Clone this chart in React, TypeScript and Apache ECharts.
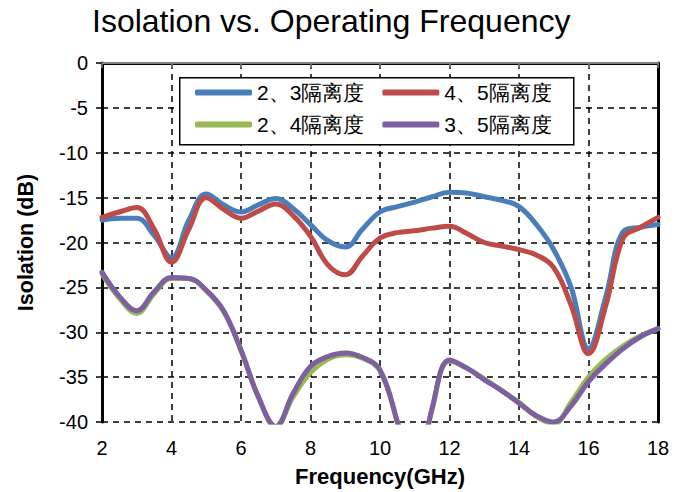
import React, { useEffect, useRef } from "react";
import * as echarts from "echarts";

const freq = [2, 2.5, 3, 3.5, 4, 4.5, 5, 5.5, 6, 6.5, 7, 7.5, 8, 8.5, 9, 9.5, 10, 10.5, 11, 11.5, 12, 12.5, 13, 13.5, 14, 14.5, 15, 15.5, 16, 16.5, 17, 17.5, 18];

const iso23 = [-17.5, -17.3, -17.3, -19.2, -21.7, -17.5, -14.6, -15.8, -16.6, -15.8, -15.1, -16.2, -18.0, -19.8, -20.5, -18.5, -16.6, -16.0, -15.5, -14.9, -14.4, -14.5, -14.9, -15.3, -16.0, -18.0, -20.8, -25.0, -31.8, -26.0, -18.8, -18.3, -18.0];
const iso45 = [-17.2, -16.6, -16.1, -18.5, -22.2, -18.5, -15.0, -16.3, -17.3, -16.5, -15.7, -17.0, -19.3, -22.5, -23.6, -21.5, -19.5, -18.9, -18.7, -18.4, -18.2, -19.0, -20.0, -20.4, -20.8, -21.4, -22.8, -27.0, -32.4, -27.0, -19.5, -18.3, -17.2];
const iso24 = [-23.5, -26.2, -27.9, -25.7, -24.0, -24.0, -25.4, -27.7, -32.0, -37.2, -40.5, -37.2, -34.5, -33.0, -32.5, -32.9, -34.3, -40.0, -47.0, -38.5, -33.2, -34.0, -35.2, -36.5, -37.8, -39.4, -40.2, -37.8, -35.0, -33.0, -31.5, -30.4, -29.6];
const iso35 = [-23.3, -26.0, -27.6, -25.5, -23.9, -24.0, -25.3, -27.6, -32.0, -37.2, -40.5, -36.8, -33.8, -32.7, -32.3, -32.8, -34.2, -40.0, -47.0, -38.5, -33.1, -34.0, -35.3, -36.5, -37.9, -39.3, -40.0, -38.2, -35.5, -33.5, -31.8, -30.5, -29.6];

const seriesNames = ["2、3隔离度", "4、5隔离度", "2、4隔离度", "3、5隔离度"];
const seriesColors = ["#4a7ebb", "#be4b48", "#98b954", "#7d60a0"];
const seriesValues = [iso23, iso45, iso24, iso35];

export default function App() {
  const ref = useRef<HTMLDivElement>(null);
  useEffect(() => {
    if (!ref.current) return;
    document.body.style.margin = "0";
    const chart = echarts.init(ref.current, null, { renderer: "svg" });
    const font = "Arial, 'Liberation Sans', sans-serif";
    const legendCommon = {
      itemWidth: 57,
      itemHeight: 6,
      itemGap: 18,
      icon: "roundRect",
      textStyle: { fontSize: 21, color: "#000", fontFamily: font },
      padding: 0,
      left: 195,
      selectedMode: false,
    };
    chart.setOption({
      animation: false,
      backgroundColor: "#fff",
      title: {
        text: "Isolation vs. Operating Frequency",
        left: 87,
        top: 0,
        textStyle: { fontSize: 32, fontWeight: "normal", color: "#000", fontFamily: font },
      },
      grid: { left: 102, right: 18, top: 63, bottom: 68, containLabel: false },
      legend: [
        { ...legendCommon, top: 82, data: [seriesNames[0], seriesNames[1]] },
        { ...legendCommon, top: 114, data: [seriesNames[2], seriesNames[3]] },
      ],
      graphic: [
        {
          type: "rect",
          left: 179,
          top: 77,
          shape: { width: 394, height: 67 },
          style: { fill: "#fff", stroke: "#000", lineWidth: 1.5 },
          z: 4,
        },
      ],
      xAxis: [
        {
          type: "value",
          min: 2,
          max: 18,
          interval: 2,
          name: "Frequency(GHz)",
          nameLocation: "middle",
          nameGap: 43,
          nameTextStyle: { fontSize: 22, fontWeight: "bold", color: "#000", fontFamily: font },
          axisLine: { show: true, lineStyle: { color: "#000", width: 3 } },
          axisTick: { show: false },
          axisLabel: { fontSize: 20, color: "#000", fontFamily: font, margin: 16 },
          splitLine: { show: true, lineStyle: { color: "#000", type: [6, 5], width: 1.5 } },
        },
        {
          type: "value",
          position: "top",
          min: 2,
          max: 18,
          interval: 2,
          axisLine: { show: true, lineStyle: { color: "#808080", width: 2 } },
          axisTick: { show: true, inside: true, length: 5, lineStyle: { color: "#808080", width: 1.5 } },
          axisLabel: { show: false },
          splitLine: { show: false },
        },
      ],
      yAxis: [
        {
          type: "value",
          min: -40,
          max: 0,
          interval: 5,
          name: "Isolation (dB)",
          nameLocation: "middle",
          nameGap: 65,
          nameTextStyle: { fontSize: 21.5, fontWeight: "bold", color: "#000", fontFamily: font },
          axisLine: { show: true, lineStyle: { color: "#000", width: 3 } },
          axisTick: { show: true, length: 6, lineStyle: { color: "#000", width: 1.5 } },
          axisLabel: { fontSize: 20, color: "#000", fontFamily: font, margin: 14 },
          splitLine: { show: true, lineStyle: { color: "#000", type: [6, 5], width: 1.5 } },
        },
        {
          type: "value",
          position: "right",
          min: -40,
          max: 0,
          interval: 5,
          axisLine: { show: true, lineStyle: { color: "#000", width: 3 } },
          axisTick: { show: false },
          axisLabel: { show: false },
          splitLine: { show: false },
        },
      ],
      series: seriesNames.map((name, i) => ({
        name,
        type: "line",
        smooth: 0.4,
        symbol: "none",
        clip: true,
        color: seriesColors[i],
        lineStyle: { width: 5, color: seriesColors[i], cap: "round", join: "round" },
        data: freq.map((f, j) => [f, seriesValues[i][j]]),
        z: 2 + i,
      })),
    });
    return () => chart.dispose();
  }, []);
  return <div ref={ref} style={{ width: 676, height: 492 }} />;
}
